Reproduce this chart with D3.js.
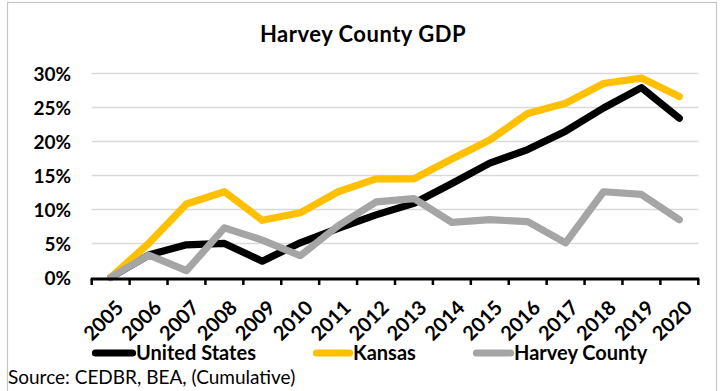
<!DOCTYPE html>
<html><head><meta charset="utf-8">
<script src="https://cdn.jsdelivr.net/npm/d3@7"></script>
<style>
html,body{margin:0;padding:0;background:#fff;}
svg{display:block;}
text{font-family:Lato, "Noto Sans", sans-serif;}
</style></head>
<body>
<svg id="chart" width="721" height="391"></svg>
<script>
const years = ["2005","2006","2007","2008","2009","2010","2011","2012","2013","2014","2015","2016","2017","2018","2019","2020"];
const unitedStates = [0, 3.3, 4.8, 5.0, 2.4, 5.1, 7.2, 9.2, 10.9, 13.8, 16.8, 18.8, 21.5, 24.9, 27.9, 23.4];
const kansas = [0, 5.0, 10.8, 12.6, 8.4, 9.5, 12.6, 14.5, 14.5, 17.4, 20.2, 24.1, 25.6, 28.5, 29.3, 26.6];
const harveyCounty = [0, 3.3, 1.0, 7.3, 5.5, 3.2, 7.6, 11.1, 11.6, 8.1, 8.5, 8.2, 5.1, 12.6, 12.2, 8.5];
const yTicks = [0, 5, 10, 15, 20, 25, 30];
const seriesNames = ["United States", "Kansas", "Harvey County"];
const seriesColors = ["#000000", "#FFC000", "#A5A5A5"];
const titleText = "Harvey County GDP";
const sourceText = "Source: CEDBR, BEA, (Cumulative)";

const svg = d3.select("#chart");

// frame
svg.append("rect").attr("x", 7.5).attr("y", 2.5).attr("width", 709).attr("height", 400)
  .attr("fill", "#fff").attr("stroke", "#c6c6c6").attr("stroke-width", 1.2);

const x = d3.scaleBand().domain(years).range([91.7, 698.3]);
const y = d3.scaleLinear().domain([0, 30]).range([277.5, 73.3]);

// gridlines
svg.append("g").selectAll("line").data(yTicks.filter(d => d > 0)).join("line")
  .attr("x1", 91.7).attr("x2", 698.3)
  .attr("y1", d => Math.round(y(d)) + 0.5).attr("y2", d => Math.round(y(d)) + 0.5)
  .attr("stroke", "#d9d9d9").attr("stroke-width", 1.3);

// y labels
const yAxis = d3.axisLeft(y).tickValues(yTicks).tickFormat(d => d + "%").tickSize(0).tickPadding(0);
const gy = svg.append("g").attr("transform", "translate(71,0)").call(yAxis);
gy.select(".domain").remove();
gy.selectAll("text").attr("font-size", 19).attr("font-weight", 700).attr("fill", "#000")
  .attr("font-family", "Lato, sans-serif").attr("dy", "0.36em");

// lines (Excel series order: later series drawn on top)
const line = d3.line().x((d, i) => x(years[i]) + x.bandwidth() / 2).y(d => y(d));
const allSeries = [unitedStates, kansas, harveyCounty];
allSeries.forEach((s, k) => {
  svg.append("path").datum(s).attr("d", line)
    .attr("fill", "none").attr("stroke", seriesColors[k]).attr("stroke-width", 7.2)
    .attr("stroke-linejoin", "round").attr("stroke-linecap", "round");
});

// x axis
const tickPositions = years.map(d => x(d)).concat([x.range()[1]]);
const gx = svg.append("g");
gx.append("line").attr("x1", 91.7 - 1).attr("x2", 698.3 + 1).attr("y1", 279).attr("y2", 279)
  .attr("stroke", "#000").attr("stroke-width", 2.8);
gx.selectAll("line.tick").data(tickPositions).join("line").attr("class", "tick")
  .attr("x1", d => d).attr("x2", d => d).attr("y1", 279).attr("y2", 285)
  .attr("stroke", "#000").attr("stroke-width", 2.5);
gx.selectAll("text").data(years).join("text")
  .attr("transform", d => `translate(${x(d) + x.bandwidth() / 2 + 4},${299}) rotate(-45)`)
  .attr("text-anchor", "end").attr("dy", "0.71em")
  .attr("font-size", 20).attr("font-weight", 700).attr("fill", "#000")
  .text(d => d);

// title
svg.append("text").attr("x", 363).attr("y", 42).attr("text-anchor", "middle")
  .attr("font-size", 22).attr("letter-spacing", 0.5).attr("font-weight", 700).attr("fill", "#000").text(titleText);

// legend
const legendX = [92, 313, 473];
const legendLen = [44, 40, 41];
seriesNames.forEach((name, i) => {
  const g = svg.append("g");
  g.append("line").attr("x1", legendX[i] + 3.5).attr("x2", legendX[i] + legendLen[i] - 3.5)
    .attr("y1", 353).attr("y2", 353).attr("stroke", seriesColors[i]).attr("stroke-width", 7.2)
    .attr("stroke-linecap", "round");
  g.append("text").attr("x", legendX[i] + legendLen[i]).attr("y", 353).attr("dy", "0.36em")
    .attr("font-size", 20).attr("font-weight", 700).attr("fill", "#000").text(name);
});

// source
svg.append("text").attr("x", 8).attr("y", 377).attr("dy", "0.36em")
  .attr("font-size", 19).attr("fill", "#000").text(sourceText);
</script>
</body></html>
